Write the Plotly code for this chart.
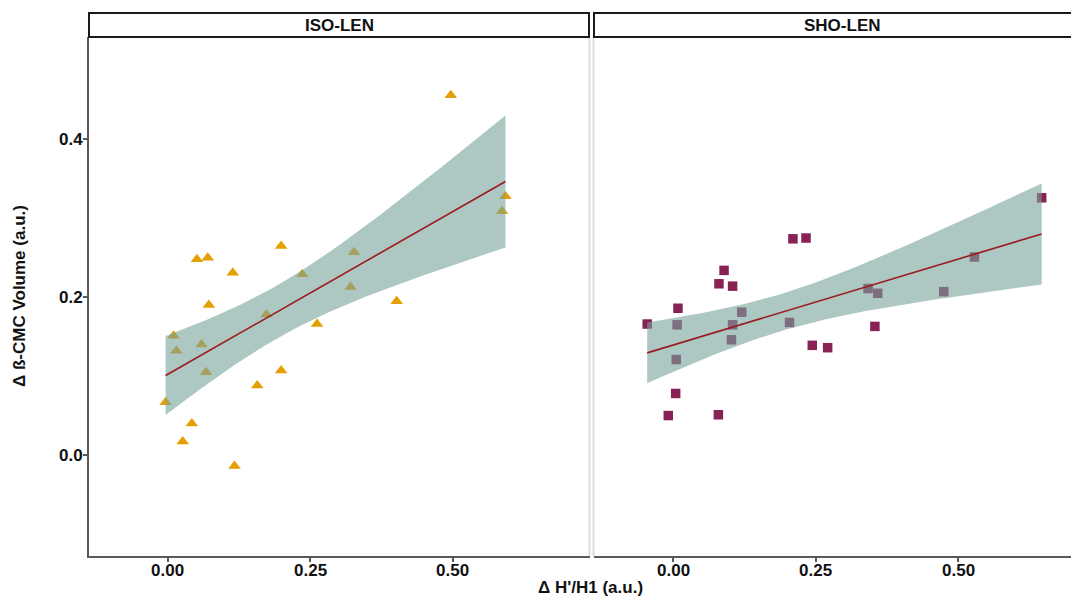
import numpy as np
import plotly.graph_objects as go

# ---------------- data ----------------
panel_titles = ["ISO-LEN", "SHO-LEN"]

iso_x = [0.497, 0.593, 0.587, 0.199, 0.051, 0.070, 0.327, 0.114, 0.236, 0.321,
         0.402, 0.072, 0.173, 0.262, 0.010, 0.015, 0.059, 0.067, 0.199, 0.157,
         -0.004, 0.042, 0.026, 0.117]
iso_y = [0.456, 0.328, 0.309, 0.265, 0.248, 0.250, 0.257, 0.231, 0.229, 0.213,
         0.195, 0.190, 0.178, 0.166, 0.151, 0.132, 0.140, 0.105, 0.107, 0.088,
         0.067, 0.040, 0.017, -0.014]

sho_x = [0.647, 0.210, 0.233, 0.089, 0.080, 0.104, 0.529, 0.342, 0.359, 0.475,
         0.008, 0.120, -0.046, 0.0065, 0.104, 0.204, 0.354, 0.102, 0.244, 0.271,
         0.005, 0.004, -0.009, 0.079]
sho_y = [0.326, 0.274, 0.275, 0.234, 0.217, 0.214, 0.251, 0.211, 0.205, 0.207,
         0.186, 0.181, 0.166, 0.165, 0.165, 0.168, 0.163, 0.146, 0.139, 0.136,
         0.121, 0.078, 0.050, 0.051]

x_tickvals = [0.0, 0.25, 0.5]
x_ticktext = ["0.00", "0.25", "0.50"]
y_tickvals = [0.0, 0.2, 0.4]
y_ticktext = ["0.0", "0.2", "0.4"]

x_title = "Δ H'/H1 (a.u.)"
y_title = "Δ ß-CMC Volume (a.u.)"

# ---------------- styling ----------------
WREF, HREF = 1079, 597          # reference picture size
OFF = 8                          # page body margin
W, H = WREF - OFF, HREF - OFF    # figure size so it fits the window
FONT = "Liberation Sans, Arial, Helvetica, sans-serif"
ORANGE = "#E69F00"
WINE = "#882255"
RIBBON = "rgba(118,163,155,0.6)"
LINE = "#9B1A1F"
AXIS = "#595959"
TXT = "#111111"


def px(x):
    return (x - OFF) / W


def py(y):
    return 1 - (y - OFF) / H


def lm_band(x, y, n_grid=80, t=2.0739):
    """Linear fit with 95% confidence band (as geom_smooth(method='lm'))."""
    x = np.asarray(x, float)
    y = np.asarray(y, float)
    n = len(x)
    xm, ym = x.mean(), y.mean()
    sxx = ((x - xm) ** 2).sum()
    b1 = ((x - xm) * (y - ym)).sum() / sxx
    b0 = ym - b1 * xm
    resid = y - (b0 + b1 * x)
    s = np.sqrt((resid ** 2).sum() / (n - 2))
    g = np.linspace(x.min(), x.max(), n_grid)
    fit = b0 + b1 * g
    se = s * np.sqrt(1 / n + (g - xm) ** 2 / sxx)
    return g, fit, fit - t * se, fit + t * se


fig = go.Figure()

panels = [
    (iso_x, iso_y, "triangle-up", ORANGE, 11, "x", "y"),
    (sho_x, sho_y, "square", WINE, 9.5, "x2", "y2"),
]

for xs, ys, sym, col, size, xa, ya in panels:
    fig.add_trace(go.Scatter(
        x=xs, y=ys, mode="markers", xaxis=xa, yaxis=ya,
        marker=dict(symbol=sym, color=col, size=size, line=dict(width=0)),
        showlegend=False, hoverinfo="skip"))
    g, fit, lo, hi = lm_band(xs, ys)
    fig.add_trace(go.Scatter(
        x=np.concatenate([g, g[::-1]]), y=np.concatenate([hi, lo[::-1]]),
        mode="lines", fill="toself", fillcolor=RIBBON, line=dict(width=0),
        xaxis=xa, yaxis=ya, showlegend=False, hoverinfo="skip"))
    fig.add_trace(go.Scatter(
        x=g, y=fit, mode="lines", line=dict(color=LINE, width=1.6),
        xaxis=xa, yaxis=ya, showlegend=False, hoverinfo="skip"))

# pixel geometry of the two panels (reference pixels)
L0, L1 = 89, 590
R0 = 594
TOP, BOT = 37, 556
ZERO_X_LEFT, ZERO_X_RIGHT, XSCALE = 167.9, 673.4, 569.2
ZERO_Y, YSCALE = 455, 789

common_x = dict(showgrid=False, zeroline=False, showline=True, linecolor=AXIS,
                linewidth=2, ticks="outside", ticklen=4, tickwidth=1.5,
                tickcolor=AXIS, tickvals=x_tickvals, showticklabels=False,
                automargin=False)
yrange = [(ZERO_Y - BOT) / YSCALE, (ZERO_Y - TOP) / YSCALE]

fig.update_layout(
    width=W, height=H,
    margin=dict(l=0, r=0, t=0, b=0),
    paper_bgcolor="white", plot_bgcolor="white",
    font=dict(family=FONT, weight="bold", color=TXT),
    xaxis=dict(domain=[px(L0), px(L1)],
               range=[(L0 - ZERO_X_LEFT) / XSCALE, (L1 - ZERO_X_LEFT) / XSCALE],
               anchor="y", **common_x),
    xaxis2=dict(domain=[px(R0), 1.0],
                range=[(R0 - ZERO_X_RIGHT) / XSCALE, (WREF - ZERO_X_RIGHT) / XSCALE],
                anchor="y2", **common_x),
    yaxis=dict(domain=[py(BOT), py(TOP)], range=yrange,
               showgrid=False, zeroline=False, showline=True, linecolor=AXIS,
               linewidth=2, ticks="outside", ticklen=4, tickwidth=1.5,
               tickcolor=AXIS, tickvals=y_tickvals, showticklabels=False,
               anchor="x", automargin=False),
    yaxis2=dict(domain=[py(BOT), py(TOP)], matches="y", range=yrange,
                showgrid=False, zeroline=False, showline=False,
                showticklabels=False, ticks="", anchor="x2"),
)

shapes = []
# light grey panel borders between facets
for xv in (589.5, 593.5):
    shapes.append(dict(type="line", xref="paper", yref="paper",
                       x0=px(xv), x1=px(xv), y0=py(BOT), y1=py(TOP),
                       line=dict(color="#dedede", width=2)))
# strip boxes
shapes.append(dict(type="rect", xref="paper", yref="paper",
                   x0=px(89), x1=px(589), y0=py(37), y1=py(13),
                   fillcolor="white", line=dict(color="#1a1a1a", width=2),
                   layer="above"))
shapes.append(dict(type="rect", xref="paper", yref="paper",
                   x0=px(594), x1=px(1090), y0=py(37), y1=py(13),
                   fillcolor="white", line=dict(color="#1a1a1a", width=2),
                   layer="above"))
fig.update_layout(shapes=shapes)

ann = []
text_font = dict(family=FONT, size=17, color=TXT, weight="bold")
tick_font = dict(family=FONT, size=17, color=TXT, weight="bold")

# tick labels placed through the axes' own scales
for xa in ("x", "x2"):
    for v, t in zip(x_tickvals, x_ticktext):
        ann.append(dict(text=t, x=v, xref=xa, y=py(570), yref="paper",
                        showarrow=False, font=tick_font,
                        xanchor="center", yanchor="middle"))
for v, t in zip(y_tickvals, y_ticktext):
    ann.append(dict(text=t, x=px(85), xref="paper", y=v, yref="y",
                    showarrow=False, font=tick_font,
                    xanchor="right", yanchor="middle"))

ann.append(dict(text=panel_titles[0], x=px(339), y=py(25), xref="paper",
                yref="paper", showarrow=False, font=text_font,
                xanchor="center", yanchor="middle"))
ann.append(dict(text=panel_titles[1], x=px(842), y=py(25), xref="paper",
                yref="paper", showarrow=False, font=text_font,
                xanchor="center", yanchor="middle"))
ann.append(dict(text=x_title, x=px(590), y=py(587), xref="paper", yref="paper",
                showarrow=False, font=text_font, xanchor="center",
                yanchor="middle"))
ann.append(dict(text=y_title, x=px(20), y=py(296), xref="paper", yref="paper",
                showarrow=False, font=text_font, textangle=-90,
                xanchor="center", yanchor="middle"))
fig.update_layout(annotations=ann)

fig.write_html("out.html")
